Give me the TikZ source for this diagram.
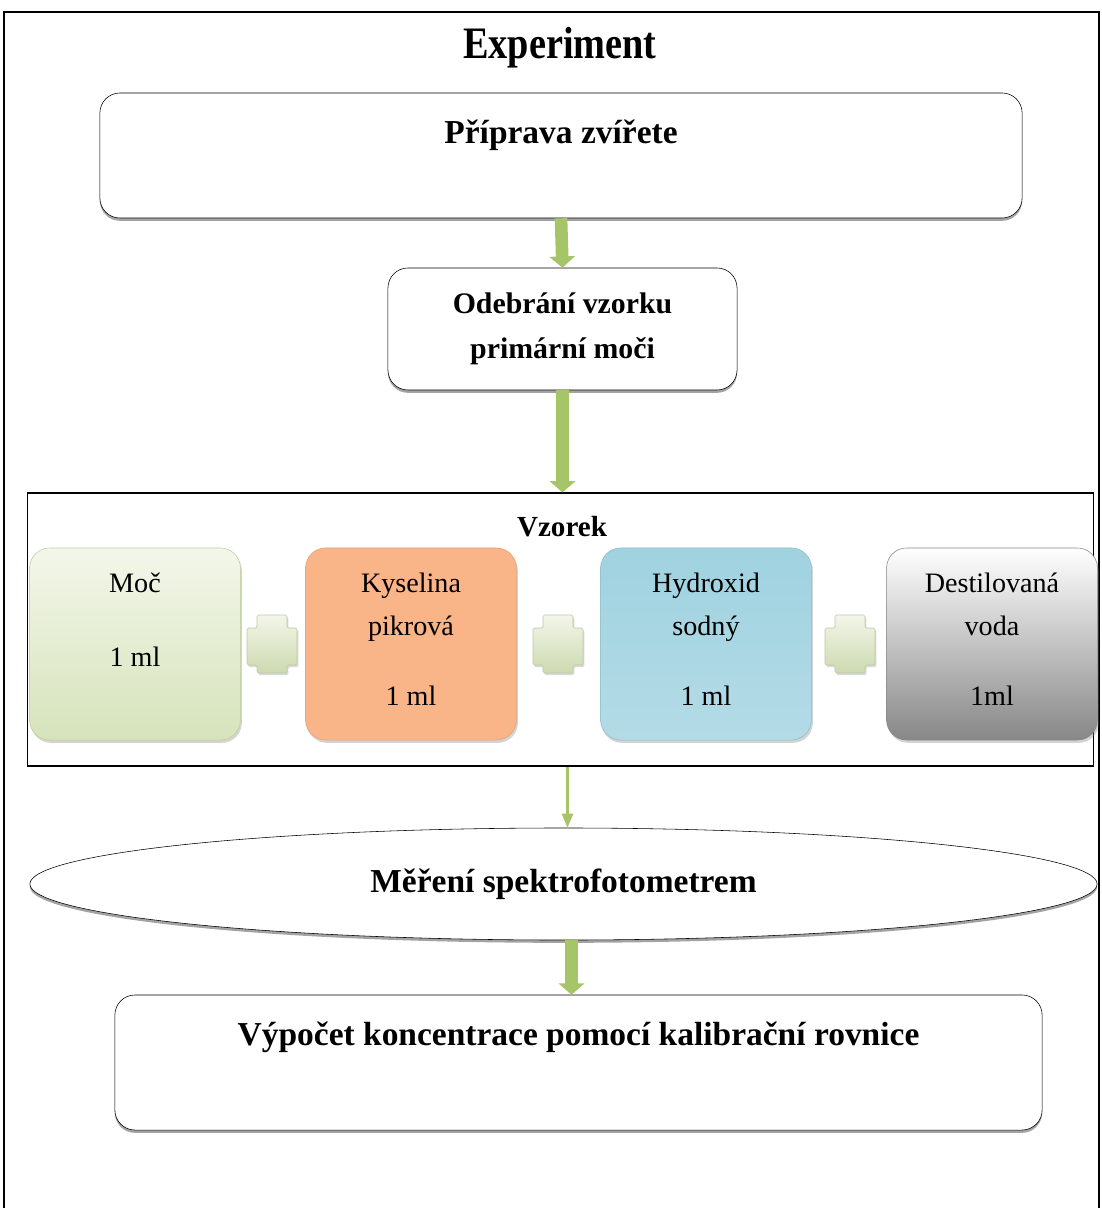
\documentclass[tikz,border=0pt]{standalone}
\usepackage{fontspec}
\setmainfont{Liberation Serif}
\usepackage{tikz}
\usetikzlibrary{arrows, arrows.meta, shapes.geometric, shadows}

\definecolor{arrowgreen}{RGB}{166,196,104}
\definecolor{mocgreen}{RGB}{214,227,186}
\definecolor{mocedge}{RGB}{190,208,150}
\definecolor{acidorange}{RGB}{249,180,136}
\definecolor{acidlight}{RGB}{252,212,182}
\definecolor{hydroblue}{RGB}{160,210,224}
\definecolor{hydrolight}{RGB}{224,241,246}
\definecolor{waterdark}{RGB}{135,135,135}
\definecolor{pluslight}{RGB}{243,246,234}
\definecolor{plusdark}{RGB}{205,218,176}

\tikzset{
  stepbox/.style={draw=black, fill=white, rounded corners=0.5cm, align=center,
    font=\bfseries\fontsize{23.8}{32}\selectfont,
    drop shadow={shadow xshift=0pt, shadow yshift=-2pt, opacity=0.6, fill=black!60}},
  samplebox/.style={rounded corners=0.5cm, align=center, minimum width=5.27cm,
    minimum height=4.8cm, inner sep=0pt, font=\fontsize{20}{31}\selectfont,
    drop shadow={shadow xshift=1pt, shadow yshift=-2pt, opacity=0.35, fill=black!50}},
  plussign/.style={draw=plusdark!80!gray, top color=pluslight, bottom color=plusdark,
    rounded corners=1pt,
    drop shadow={shadow xshift=1pt, shadow yshift=-1.5pt, opacity=0.3, fill=black!50}},
  flowarrow/.style={draw=arrowgreen, line width=9pt, -{Triangle[width=18pt,length=8pt]}},
  thinarrow/.style={draw=arrowgreen, line width=1.5pt, -{Triangle[width=8pt,length=10pt]}}
}

\begin{document}
\begin{tikzpicture}[x=0.025cm, y=-0.025cm]
\useasboundingbox (0,0) rectangle (1101,1208);
\draw[line width=1pt] (4,1208) -- (4,12) -- (1099,12) -- (1099,1208);

\node[font=\bfseries\fontsize{32}{36}\selectfont] (titulek) at (560,48) {\scalebox{0.85}[1]{Experiment}};

\node[stepbox, minimum width=23.05cm, minimum height=3.125cm, text height=0.55cm, text depth=1.13cm] (priprava) at (561,155.5) {Příprava zvířete};
\node[stepbox, font=\bfseries\fontsize{21.2}{32}\selectfont, minimum width=8.725cm, minimum height=3.05cm] (odber) at (562.5,329) {Odebrání vzorku\\primární moči};

\node[draw=black, line width=0.8pt, minimum width=26.625cm, minimum height=6.825cm, inner sep=0pt] (vzorek) at (560.5,629.5) {};
\node[font=\bfseries\fontsize{20.7}{24}\selectfont] (vzorektitle) at (562,527) {Vzorek};

\node[samplebox, draw=mocedge, top color=white!70!mocgreen, bottom color=mocgreen] (moc) at (135,644) {Moč\\[21.6pt]1 ml\\[3pt]\mbox{}};
\node[samplebox, draw=acidorange!90!black, top color=acidorange, middle color=acidlight, bottom color=acidorange] (kyselina) at (411,644) {Kyselina\\pikrová\\[18.5pt]1 ml\\[-24pt]\mbox{}};
\node[samplebox, draw=hydroblue!90!black, top color=hydroblue, middle color=hydrolight, bottom color=hydroblue!80!white] (hydroxid) at (706,644) {Hydroxid\\sodný\\[18.5pt]1 ml\\[-24pt]\mbox{}};
\node[samplebox, draw=waterdark, top color=white, bottom color=waterdark] (voda) at (992,644) {Destilovaná\\voda\\[18.5pt]1ml\\[-24pt]\mbox{}};

\foreach \px in {272,558,850}
  \path[plussign] (\px-15,615) -- (\px+15,615) -- (\px+15,628) -- (\px+25,628) -- (\px+25,665) -- (\px+15,665) -- (\px+15,673) -- (\px-15,673) -- (\px-15,665) -- (\px-25,665) -- (\px-25,628) -- (\px-15,628) -- cycle;

\node[ellipse, draw=black, fill=white, minimum width=26.675cm, minimum height=2.8cm, inner sep=0pt,
  font=\bfseries\fontsize{23.8}{32}\selectfont,
  drop shadow={shadow xshift=0pt, shadow yshift=-2pt, opacity=0.6, fill=black!60}] (mereni) at (563.5,884) {Měření spektrofotometrem};

\node[stepbox, minimum width=23.175cm, minimum height=3.375cm, text height=0.55cm, text depth=1.39cm] (vypocet) at (578.5,1062.5) {Výpočet koncentrace pomocí kalibrační rovnice};

\draw[flowarrow] (priprava.south) -- (odber.north);
\draw[flowarrow] (odber.south) -- (odber.south |- vzorek.north);
\draw[thinarrow] ([xshift=0.1cm]mereni.north |- vzorek.south) -- ([xshift=0.1cm]mereni.north);
\draw[flowarrow] ([xshift=0.2cm]mereni.south) -- ([xshift=0.2cm]mereni.south |- vypocet.north);
\end{tikzpicture}
\end{document}
